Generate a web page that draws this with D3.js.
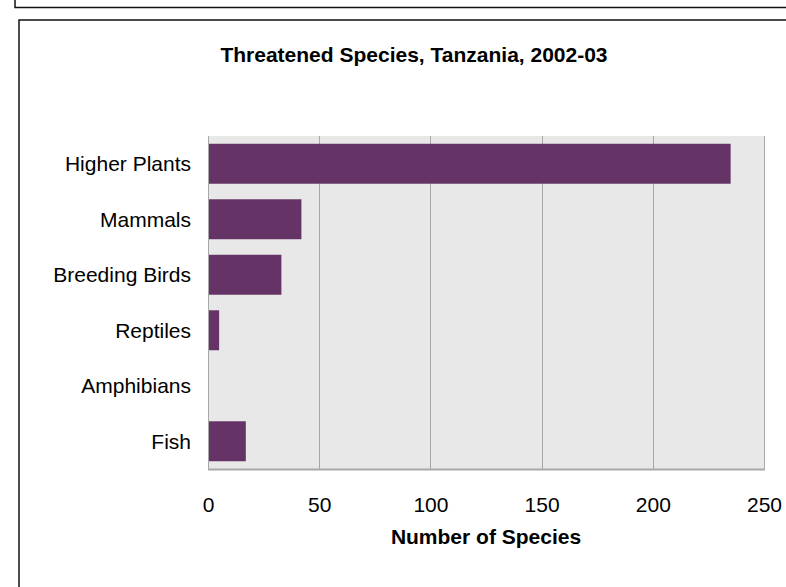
<!DOCTYPE html>
<html>
<head>
<meta charset="utf-8">
<script src="https://cdn.jsdelivr.net/npm/d3@7"></script>
<style>
  body { margin: 0; background: #fff; }
  svg { display: block; font-family: "Liberation Sans", Arial, sans-serif; }
</style>
</head>
<body>
<div id="chart"></div>
<script>
// chart data
var categories = ["Higher Plants", "Mammals", "Breeding Birds", "Reptiles", "Amphibians", "Fish"];
var speciesCounts = [235, 42, 33, 5, 0, 17];
var xTicks = [0, 50, 100, 150, 200, 250];
var chartTitle = "Threatened Species, Tanzania, 2002-03";
var xTitle = "Number of Species";

var width = 786, height = 587;
var margin = {top: 136, right: 22, bottom: 118, left: 208};
var plotW = width - margin.left - margin.right,
    plotH = height - margin.top - margin.bottom;

var svg = d3.select("#chart").append("svg")
    .attr("width", width)
    .attr("height", height);

// frames of the surrounding boxes
svg.append("path")
    .attr("d", "M15,0 V7.5 H786")
    .style("fill", "none")
    .style("stroke", "#111")
    .style("stroke-width", 1.5);
svg.append("path")
    .attr("d", "M19,587 V20 H786")
    .style("fill", "none")
    .style("stroke", "#111")
    .style("stroke-width", 1.5);

svg.append("text")
    .attr("x", 414)
    .attr("y", 55)
    .attr("text-anchor", "middle")
    .attr("dy", "0.35em")
    .style("font-size", "21px")
    .style("font-weight", "bold")
    .text(chartTitle);

var g = svg.append("g")
    .attr("transform", "translate(" + margin.left + "," + margin.top + ")");

var x = d3.scaleLinear()
    .domain([0, 250])
    .range([0, plotW]);

var y = d3.scaleBand()
    .domain(categories)
    .range([0, plotH])
    .paddingInner(0.28)
    .paddingOuter(0.14);

g.append("rect")
    .attr("width", plotW)
    .attr("height", plotH)
    .style("fill", "#e8e8e8");

g.selectAll(".grid")
    .data(xTicks)
    .enter()
    .append("line")
    .attr("class", "grid")
    .attr("x1", function(d) { return Math.round(x(d)) + 0.5; })
    .attr("x2", function(d) { return Math.round(x(d)) + 0.5; })
    .attr("y1", 0)
    .attr("y2", plotH)
    .style("stroke", "#a8a8a8")
    .style("stroke-width", 1);

g.append("line")
    .attr("x1", 0)
    .attr("x2", plotW + 1)
    .attr("y1", plotH + 0.5)
    .attr("y2", plotH + 0.5)
    .style("stroke", "#a8a8a8")
    .style("stroke-width", 2);

g.selectAll(".bar")
    .data(categories)
    .enter()
    .append("rect")
    .attr("class", "bar")
    .attr("x", x(0) + 1)
    .attr("y", function(d) { return y(d); })
    .attr("width", function(d, i) { return Math.max(0, x(speciesCounts[i]) - 1); })
    .attr("height", y.bandwidth())
    .style("fill", "#663366");

g.selectAll(".cat")
    .data(categories)
    .enter()
    .append("text")
    .attr("class", "cat")
    .attr("x", -17)
    .attr("y", function(d) { return y(d) + y.bandwidth() / 2; })
    .attr("dy", "0.35em")
    .attr("text-anchor", "end")
    .style("font-size", "21px")
    .text(function(d) { return d; });

var xAxis = g.append("g")
    .attr("transform", "translate(0," + plotH + ")")
    .call(d3.axisBottom(x).tickValues(xTicks).tickSize(0));
xAxis.select(".domain").remove();
xAxis.selectAll("text")
    .attr("y", 36)
    .attr("dy", "0.35em")
    .style("font-family", "\"Liberation Sans\", Arial, sans-serif")
    .style("font-size", "21px")
    .style("fill", "#000");

g.append("text")
    .attr("x", plotW / 2)
    .attr("y", plotH + 68)
    .attr("text-anchor", "middle")
    .attr("dy", "0.35em")
    .style("font-size", "21px")
    .style("font-weight", "bold")
    .text(xTitle);
</script>
</body>
</html>
